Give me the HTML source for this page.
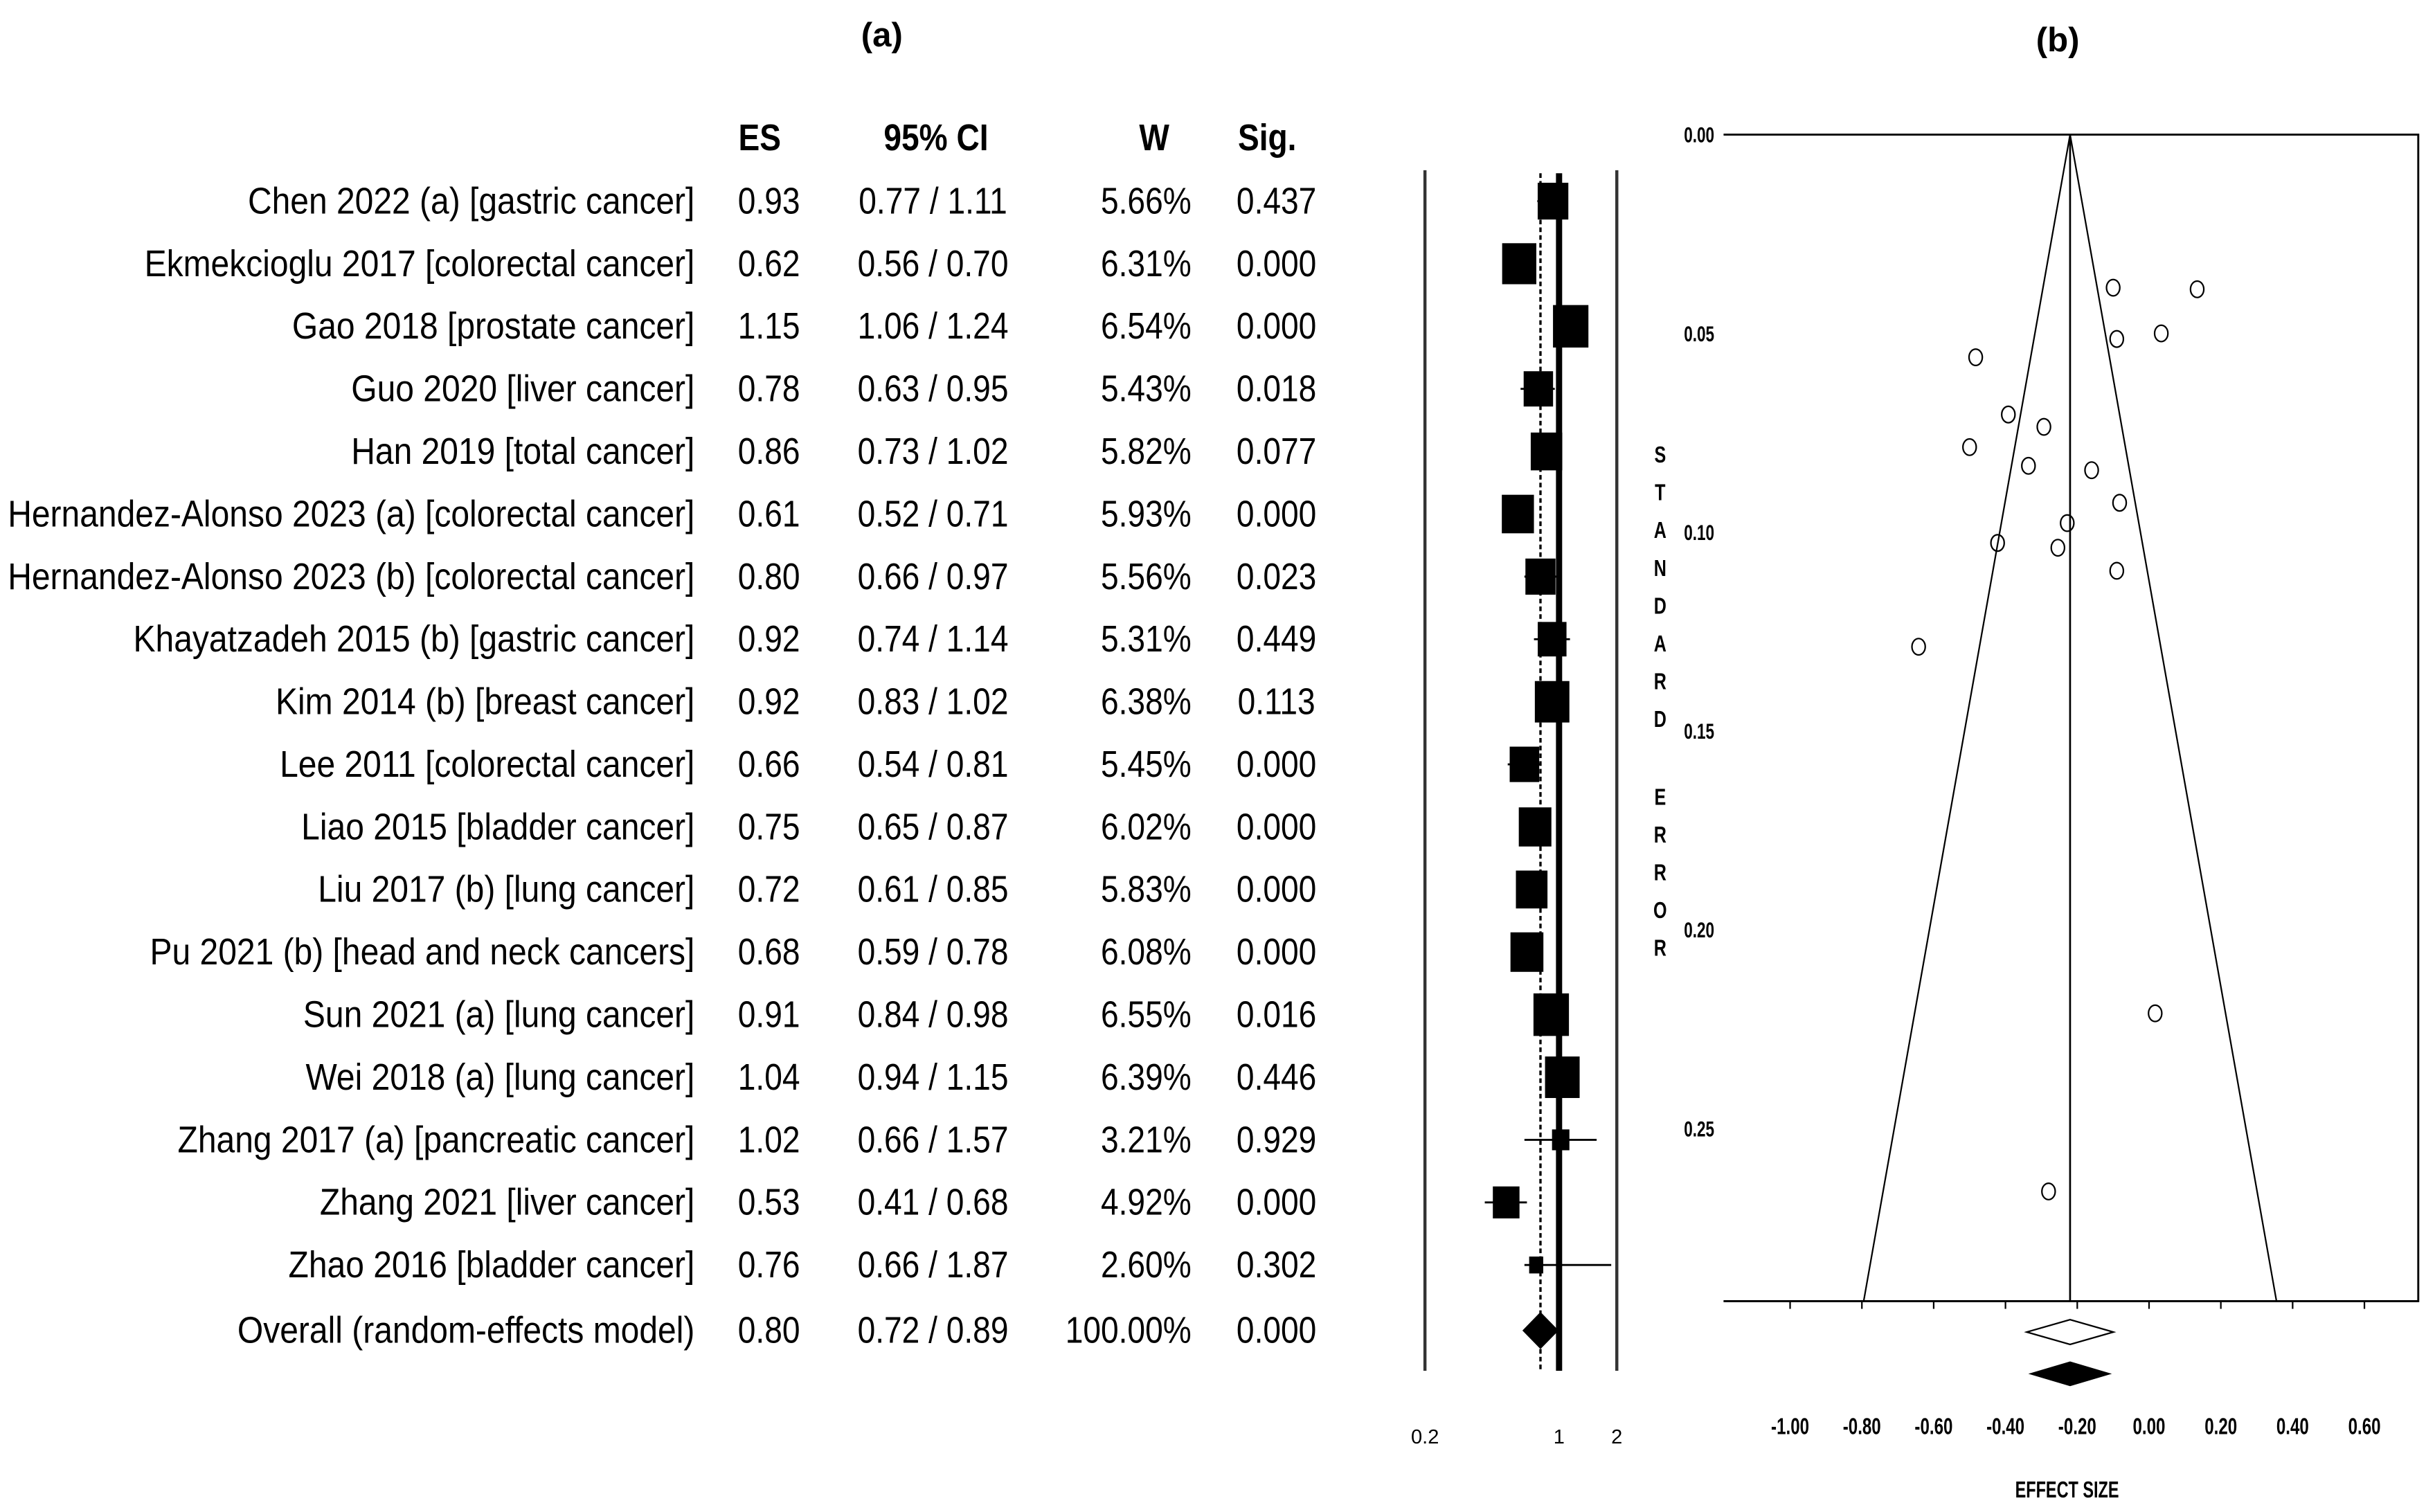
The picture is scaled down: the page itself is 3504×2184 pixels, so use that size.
<!DOCTYPE html>
<html><head><meta charset="utf-8"><style>
html,body{margin:0;padding:0;background:#fff;}
svg{display:block;}
text{font-family:"Liberation Sans",Arial,sans-serif;fill:#000;}
</style></head><body>
<svg id="c" width="3504" height="2184" viewBox="0 0 1568 977.3" xmlns="http://www.w3.org/2000/svg">
<g id="forest"></g>
<g id="funnel"></g>
</svg>
<script>
// ---- forest plot data ----
const studies = ["Chen 2022 (a) [gastric cancer]","Ekmekcioglu 2017 [colorectal cancer]","Gao 2018 [prostate cancer]","Guo 2020 [liver cancer]","Han 2019 [total cancer] ","Hernandez-Alonso 2023 (a) [colorectal cancer]","Hernandez-Alonso 2023 (b) [colorectal cancer]","Khayatzadeh 2015 (b) [gastric cancer]","Kim 2014 (b) [breast cancer]","Lee 2011 [colorectal cancer]","Liao 2015 [bladder cancer]","Liu 2017 (b) [lung cancer]","Pu 2021 (b) [head and neck cancers]","Sun 2021 (a) [lung cancer]","Wei 2018 (a) [lung cancer]","Zhang 2017 (a) [pancreatic cancer]","Zhang 2021 [liver cancer]","Zhao 2016 [bladder cancer]"];
const es = [0.93,0.62,1.15,0.78,0.86,0.61,0.80,0.92,0.92,0.66,0.75,0.72,0.68,0.91,1.04,1.02,0.53,0.76];
const ciLo = [0.77,0.56,1.06,0.63,0.73,0.52,0.66,0.74,0.83,0.54,0.65,0.61,0.59,0.84,0.94,0.66,0.41,0.66];
const ciHi = [1.11,0.70,1.24,0.95,1.02,0.71,0.97,1.14,1.02,0.81,0.87,0.85,0.78,0.98,1.15,1.57,0.68,1.87];
const weights = [5.66,6.31,6.54,5.43,5.82,5.93,5.56,5.31,6.38,5.45,6.02,5.83,6.08,6.55,6.39,3.21,4.92,2.60];
const sig = ["0.437","0.000","0.000","0.018","0.077","0.000","0.023","0.449","0.113","0.000","0.000","0.000","0.000","0.016","0.446","0.929","0.000","0.302"];
const overall = {es:0.80, lo:0.72, hi:0.89, w:"100.00%", sig:"0.000"};
const forestTicks = [0.2,1,2];
// ---- funnel plot data ----
const funnelES = [-0.10,0.134,-0.09,0.034,-0.483,-0.392,-0.293,-0.50,-0.336,-0.16,-0.082,-0.228,-0.422,-0.254,-0.09,-0.642,0.017,-0.28];
const funnelSE = [0.0385,0.0389,0.0514,0.050,0.056,0.0704,0.0735,0.0786,0.0833,0.0844,0.0926,0.0977,0.1027,0.1039,0.1097,0.1288,0.221,0.2658];
const pooledES = -0.22;
const xTicks = [-1.00,-0.80,-0.60,-0.40,-0.20,0.00,0.20,0.40,0.60];
const yTicks = [0.00,0.05,0.10,0.15,0.20,0.25];

const NS="http://www.w3.org/2000/svg";
function mk(parent,tag,attrs,txt){const e=document.createElementNS(NS,tag);for(const k in attrs)e.setAttribute(k,attrs[k]);if(txt!==undefined)e.textContent=txt;parent.appendChild(e);return e;}
function txt(parent,x,y,s,size,anchor,sx,weight,family){
  const e=mk(parent,'text',{transform:`translate(${x},${y}) scale(${sx},1)`,'font-size':size,'text-anchor':anchor,'font-weight':weight||'normal'},s);
  if(family)e.setAttribute('font-family',family);
  return e;}

const F=document.getElementById('forest');
const rowY=i=>130+i*40.45;
const fx=v=>921+(Math.log10(v)-Math.log10(0.2))/(Math.log10(2)-Math.log10(0.2))*124;
const SX=0.86, LSX=0.895;
let t=txt(F,570,30,'(a)',22,'middle',1,'bold','Liberation Serif');


const hdr=[['ES',491,'middle'],['95% CI',605,'middle'],['W',746,'middle'],['Sig.',819,'middle']];
hdr.forEach(h=>{const e=txt(F,h[1],97,h[0],24,h[2],SX,'bold');

});
function row(i,label,e1,ci,w,s,y){
  let a=txt(F,449,y+8,label,24,'end',LSX);
  
  
  a=txt(F,497,y+8,e1,24,'middle',SX);
  
  
  a=txt(F,603,y+8,ci,24,'middle',SX);
  
  
  a=txt(F,770,y+8,w,24,'end',SX);
  
  
  a=txt(F,825,y+8,s,24,'middle',SX);
  
  
}
studies.forEach((s,i)=>row(i,s,es[i].toFixed(2),ciLo[i].toFixed(2)+' / '+ciHi[i].toFixed(2),weights[i].toFixed(2)+'%',sig[i],rowY(i)));
const oy=860;
row(18,'Overall (random-effects model)',overall.es.toFixed(2),overall.lo.toFixed(2)+' / '+overall.hi.toFixed(2),overall.w,overall.sig,oy);
// axes
let l=mk(F,'line',{x1:921,y1:110,x2:921,y2:886,stroke:'#333','stroke-width':2});


l=mk(F,'line',{x1:1045,y1:110,x2:1045,y2:886,stroke:'#333','stroke-width':2});


l=mk(F,'line',{x1:fx(overall.es),y1:112,x2:fx(overall.es),y2:886,stroke:'#000','stroke-width':1.5,'stroke-dasharray':'3,2'});


l=mk(F,'line',{x1:fx(1),y1:112,x2:fx(1),y2:886,stroke:'#000','stroke-width':4});


forestTicks.forEach(v=>{const e=txt(F,fx(v),933,String(v),13,'middle',1);

});
studies.forEach((s,i)=>{
  const y=rowY(i);
  const c=mk(F,'line',{x1:fx(ciLo[i]),y1:y,x2:fx(ciHi[i]),y2:y,stroke:'#000','stroke-width':1.3});
  
  
  const w=weights[i]*3.5,h=weights[i]*4.2;
  const b=mk(F,'rect',{x:fx(es[i])-w/2,y:y-h/2,width:w,height:h,fill:'#000'});
  
  
});
const d=mk(F,'polygon',{points:`${fx(overall.lo)-6},${oy} ${fx(overall.es)},${oy-12} ${fx(overall.hi)+6},${oy} ${fx(overall.es)},${oy+12}`,fill:'#000'});



// ---- funnel ----
const G=document.getElementById('funnel');
const gx=v=>1389+v*232, gy=s=>87+s*2570;
const L=1114,R=1563,T=87,B=841, seMax=(B-T)/2570;
t=txt(G,1330,33,'(b)',22,'middle',1,'bold','Liberation Serif');


let fr=mk(G,'path',{d:`M${L},${T} H${R} V${B} H${L}`,fill:'none',stroke:'#000','stroke-width':1.3});


fr=mk(G,'line',{x1:L,y1:B,x2:R,y2:B,stroke:'#000','stroke-width':1.3});


xTicks.forEach(v=>{
  const k=mk(G,'line',{x1:gx(v),y1:B,x2:gx(v),y2:B+5,stroke:'#000','stroke-width':1});
  
  
  const e=txt(G,gx(v),927,v.toFixed(2),15,'middle',0.72,'bold');
  
  
});
yTicks.forEach(v=>{
  const e=txt(G,1108,gy(v)+5,v.toFixed(2),14,'end',0.72,'bold');
  
  
});
const lab="STANDARD ERROR";
let yy=293;
for(const ch of lab){ if(ch!==' '){const e=txt(G,1073,yy+6,ch,15,'middle',0.75,'bold');

} yy+=ch===' '?26:24.4;}
t=txt(G,1336,968,'EFFECT SIZE',15,'middle',0.7,'bold');


const px=gx(pooledES);
let f=mk(G,'line',{x1:px,y1:T,x2:px,y2:B,stroke:'#000','stroke-width':1.2});


f=mk(G,'polyline',{points:`${gx(pooledES-1.96*seMax)},${B} ${px},${T} ${gx(pooledES+1.96*seMax)},${B}`,fill:'none',stroke:'#000','stroke-width':1});


funnelES.forEach((v,i)=>{
  const c=mk(G,'ellipse',{cx:gx(v),cy:gy(funnelSE[i]),rx:4.3,ry:5.3,fill:'none',stroke:'#000','stroke-width':1});
  
  
});
let dd=mk(G,'polygon',{points:`${px-28},861 ${px},853 ${px+28},861 ${px},869`,fill:'#fff',stroke:'#000','stroke-width':1});


dd=mk(G,'polygon',{points:`${px-27},888 ${px},880 ${px+27},888 ${px},896`,fill:'#000'});


</script>
</body></html>
